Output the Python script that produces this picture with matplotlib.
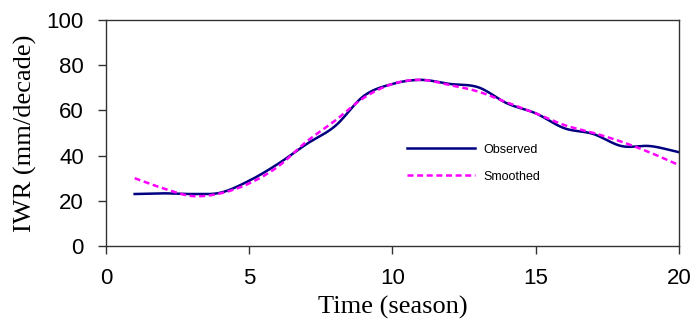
import numpy as np
import matplotlib.pyplot as plt

season = [1, 2, 3, 4, 5, 6, 7, 8, 9, 10, 11, 12, 13, 14, 15, 16, 17, 18, 19, 20]
observed = [23.0, 23.3, 23.0, 23.6, 28.9, 36.3, 45.1, 53.1, 66.4, 71.7,
            73.5, 71.7, 70.2, 63.1, 58.7, 52.1, 49.6, 44.2, 44.2, 41.5]
smoothed = [30.0, 25.5, 22.1, 23.3, 27.7, 35.1, 46.2, 55.5, 65.6, 71.7,
            73.5, 71.2, 68.3, 63.5, 58.7, 53.5, 50.1, 46.1, 41.3, 35.8]


def smooth_line(x, y, n=20):
    # Catmull-Rom spline, like an Excel "smoothed line"
    x = np.asarray(x, float)
    y = np.asarray(y, float)
    px = np.concatenate([[2*x[0]-x[1]], x, [2*x[-1]-x[-2]]])
    py = np.concatenate([[2*y[0]-y[1]], y, [2*y[-1]-y[-2]]])
    t = np.linspace(0, 1, n, endpoint=False)
    xs, ys = [], []
    for i in range(1, len(px)-2):
        for p, out in ((px, xs), (py, ys)):
            p0, p1, p2, p3 = p[i-1], p[i], p[i+1], p[i+2]
            out.extend(0.5*((2*p1) + (-p0+p2)*t + (2*p0-5*p1+4*p2-p3)*t**2
                            + (-p0+3*p1-3*p2+p3)*t**3))
    xs.append(x[-1])
    ys.append(y[-1])
    return np.array(xs), np.array(ys)


fig = plt.figure(figsize=(6.91, 3.25), dpi=100)
ax = fig.add_axes([0.1534, 0.2431, 0.8292, 0.6954])

xo, yo = smooth_line(season, observed)
xs, ys = smooth_line(season, smoothed)
ax.plot(xo, yo, color='#000080', lw=1.8, label='Observed')
ax.plot(xs, ys, color='#FF00FF', lw=1.8, ls=(0, (2.4, 1.45)), label='Smoothed')

ax.set_xlim(0, 20)
ax.set_ylim(0, 100)
ax.set_xticks([0, 5, 10, 15, 20])
ax.set_yticks([0, 20, 40, 60, 80, 100])
ax.tick_params(direction='out', length=6, width=1, color='#333333',
               labelsize=16, pad=10)
for lab in ax.get_xticklabels() + ax.get_yticklabels():
    lab.set_fontfamily('Liberation Sans')
for s in ax.spines.values():
    s.set_color('#333333')
    s.set_linewidth(1)

ax.set_xlabel('Time (season)', fontsize=19, family='Liberation Serif', labelpad=5)
ax.set_ylabel('IWR (mm/decade)', fontsize=19, family='Liberation Serif', labelpad=7)

ax.legend(loc='upper left', bbox_to_anchor=(0.515, 0.48), frameon=False,
          prop={'family': 'Liberation Sans', 'size': 9}, handlelength=5.4,
          handletextpad=0.7, labelspacing=1.2, borderpad=0)

fig.savefig('out.png', dpi=100)
